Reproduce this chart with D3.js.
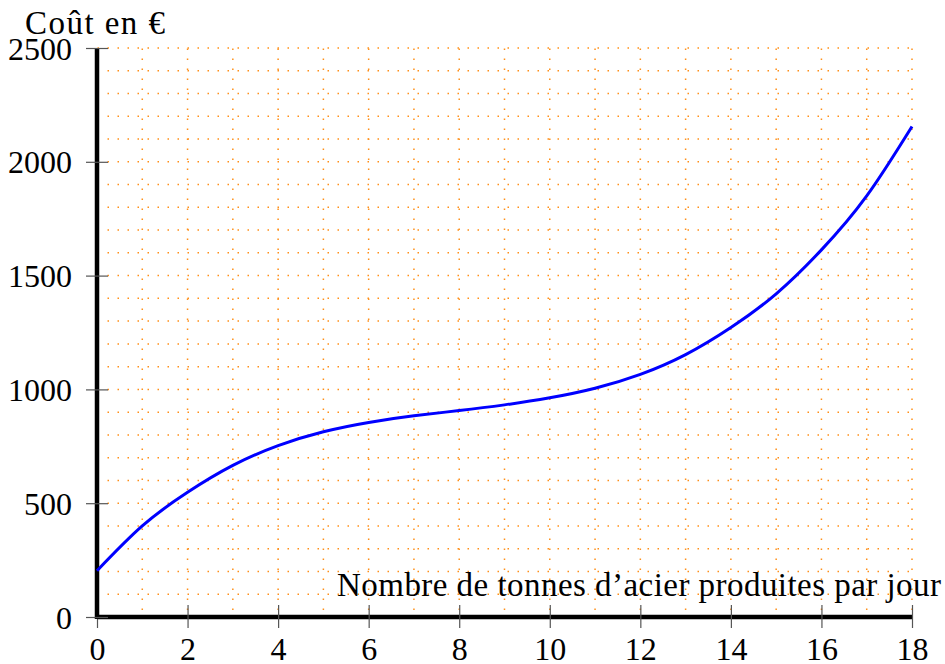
<!DOCTYPE html>
<html>
<head>
<meta charset="utf-8">
<script src="https://cdn.jsdelivr.net/npm/d3@7"></script>
<style>
  html, body { margin: 0; padding: 0; background: #fff; }
</style>
</head>
<body>
<figure id="chart" style="margin:0"></figure>
<script>
// values, one per tonne
const tonnes = [0, 1, 2, 3, 4, 5, 6, 7, 8, 9, 10, 11, 12, 13, 14, 15, 16, 17, 18];
const cout = [203, 400, 548, 666, 753, 814, 855, 884, 907, 932, 963, 1005, 1066, 1153, 1272, 1420, 1613, 1850, 2155];
const xTicks = [0, 2, 4, 6, 8, 10, 12, 14, 16, 18];
const yTicks = [0, 500, 1000, 1500, 2000, 2500];
const xGrid = d3.range(1, 19);
const yGrid = d3.range(100, 2600, 100);

const FONT = '"Liberation Serif", FreeSerif, serif';
const W = 945, H = 664;
const margin = {top: 48, right: 33, bottom: 47, left: 97};
const width = W - margin.left - margin.right;
const height = H - margin.top - margin.bottom;

const x = d3.scaleLinear().domain([0, 18]).range([0, width]);
const y = d3.scaleLinear().domain([0, 2500]).range([height, 0]);

const root = d3.select('figure#chart')
  .append('svg')
  .attr('width', W)
  .attr('height', H);

const svg = root.append('g')
  .attr('transform', 'translate(' + margin.left + ',' + margin.top + ')');

// dotted orange grid
const grid = svg.append('g').attr('class', 'grid')
  .attr('stroke', '#ff901a')
  .attr('stroke-width', 1.5)
  .attr('stroke-dasharray', '1.5 8.5');

grid.selectAll('line.h')
  .data(yGrid)
  .enter().append('line')
  .attr('class', 'h')
  .attr('x1', 0.5).attr('x2', width)
  .attr('y1', d => y(d)).attr('y2', d => y(d));

grid.selectAll('line.v')
  .data(xGrid)
  .enter().append('line')
  .attr('class', 'v')
  .attr('x1', d => x(d)).attr('x2', d => x(d))
  .attr('y1', 0.5).attr('y2', height);

// axes
const xAxis = d3.axisBottom(x).tickValues(xTicks).tickSize(11).tickSizeOuter(0).tickFormat(d3.format('d'));
const yAxis = d3.axisLeft(y).tickValues(yTicks).tickSize(11).tickSizeOuter(0).tickFormat(d3.format('d'));

const gx = svg.append('g')
  .attr('transform', 'translate(0,' + height + ')')
  .call(xAxis);
gx.selectAll('.tick line').attr('y1', -12).attr('y2', 11).attr('stroke', '#555').attr('stroke-width', 1.2);
gx.selectAll('.tick text').attr('y', 43).attr('dy', 0).attr('fill', '#000')
  .style('font-family', FONT).style('font-size', '32px');
gx.select('.domain').attr('stroke', '#000').attr('stroke-width', 4.5).attr('d', 'M0,0H' + width);

const gy = svg.append('g').call(yAxis);
gy.selectAll('.tick line').attr('x1', 11).attr('x2', -11).attr('stroke', '#555').attr('stroke-width', 1.2);
gy.selectAll('.tick text').attr('x', -25).attr('dy', 11).attr('fill', '#000')
  .style('font-family', FONT).style('font-size', '32px');
gy.select('.domain').attr('stroke', '#000').attr('stroke-width', 4.5).attr('d', 'M0,' + (height + 2) + 'V0');

// curve
const line = d3.line()
  .x((d, i) => x(tonnes[i]))
  .y(d => y(d))
  .curve(d3.curveNatural);

svg.append('path')
  .datum(cout)
  .attr('fill', 'none')
  .attr('stroke', '#0000ff')
  .attr('stroke-width', 3)
  .attr('d', line);

// labels (CM in the original is wider than Times, so stretch a little)
svg.append('text')
  .attr('x', 25 - margin.left)
  .attr('y', 34 - margin.top)
  .attr('textLength', 140)
  .attr('lengthAdjust', 'spacing')
  .style('font-family', FONT).style('font-size', '33px')
  .text('Coût en €');

svg.append('text')
  .attr('x', 337 - margin.left)
  .attr('y', 596 - margin.top)
  .attr('textLength', 604)
  .attr('lengthAdjust', 'spacing')
  .style('font-family', FONT).style('font-size', '33px')
  .text('Nombre de tonnes d’acier produites par jour');
</script>
</body>
</html>
